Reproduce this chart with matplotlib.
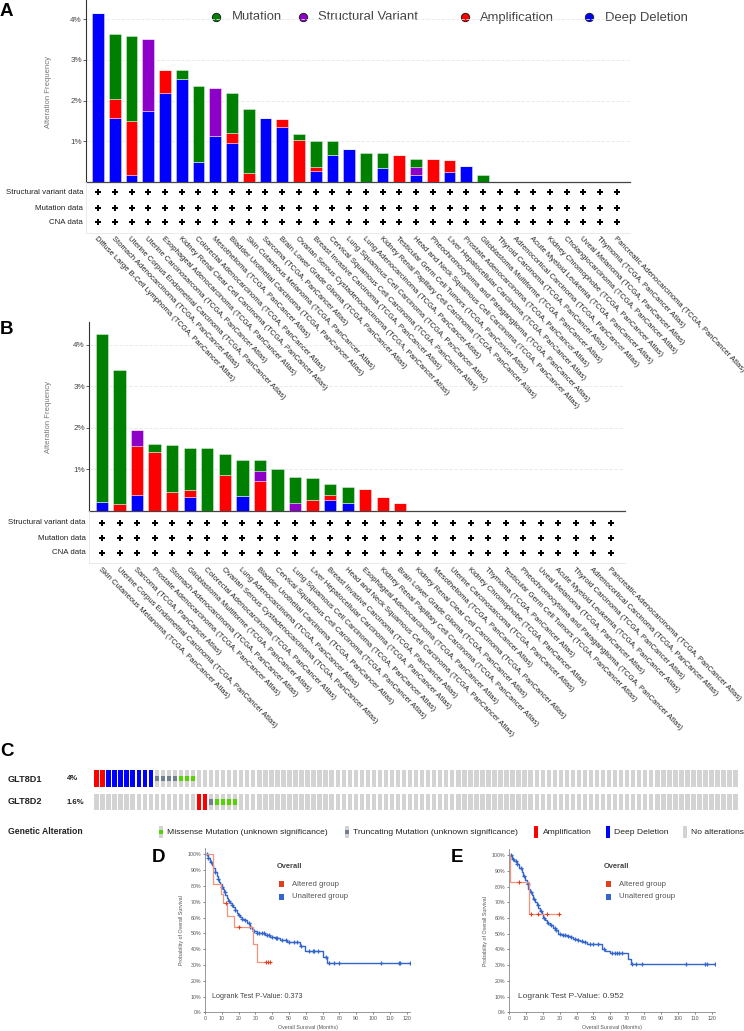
import matplotlib
matplotlib.use('Agg')
import matplotlib.pyplot as plt
import numpy as np
from matplotlib.patches import Rectangle

plt.rcParams['font.family'] = ['Liberation Sans', 'DejaVu Sans']

# ---------------- DATA ----------------
SUFFIX = ' (TCGA, PanCancer Atlas)'
a_cancers = ['Diffuse Large B-Cell Lymphoma', 'Stomach Adenocarcinoma', 'Uterine Corpus Endometrial Carcinoma',
             'Uterine Carcinosarcoma', 'Esophageal Adenocarcinoma', 'Kidney Renal Clear Cell Carcinoma',
             'Colorectal Adenocarcinoma', 'Mesothelioma', 'Bladder Urothelial Carcinoma', 'Skin Cutaneous Melanoma',
             'Sarcoma', 'Brain Lower Grade Glioma', 'Ovarian Serous Cystadenocarcinoma', 'Breast Invasive Carcinoma',
             'Cervical Squamous Cell Carcinoma', 'Lung Squamous Cell Carcinoma', 'Lung Adenocarcinoma',
             'Kidney Renal Papillary Cell Carcinoma', 'Testicular Germ Cell Tumors',
             'Head and Neck Squamous Cell Carcinoma', 'Pheochromocytoma and Paraganglioma',
             'Liver Hepatocellular Carcinoma', 'Prostate Adenocarcinoma', 'Glioblastoma Multiforme',
             'Thyroid Carcinoma', 'Adrenocortical Carcinoma', 'Acute Myeloid Leukemia', 'Kidney Chromophobe',
             'Cholangiocarcinoma', 'Uveal Melanoma', 'Thymoma', 'Pancreatic Adenocarcinoma']
a_mut = [0, 1.60, 2.09, 0, 0, 0.21, 1.86, 0, 0.98, 1.59, 0, 0, 0.17, 0.64, 0.34, 0, 0.70, 0.36, 0, 0.20,
         0, 0, 0, 0.16, 0, 0, 0, 0, 0, 0, 0, 0]
a_sv = [0, 0, 0, 1.76, 0, 0, 0, 1.16, 0, 0, 0, 0, 0, 0, 0, 0, 0, 0, 0, 0.19,
        0, 0, 0, 0, 0, 0, 0, 0, 0, 0, 0, 0]
a_amp = [0, 0.46, 1.33, 0, 0.56, 0, 0, 0, 0.24, 0.21, 0, 0.20, 1.02, 0.10, 0, 0, 0, 0, 0.66, 0,
         0.56, 0.28, 0, 0, 0, 0, 0, 0, 0, 0, 0, 0]
a_del = [4.16, 1.58, 0.17, 1.75, 2.19, 2.53, 0.49, 1.14, 0.96, 0, 1.57, 1.35, 0, 0.26, 0.66, 0.81, 0, 0.34, 0, 0.18,
         0, 0.25, 0.40, 0, 0, 0, 0, 0, 0, 0, 0, 0]

b_cancers = ['Skin Cutaneous Melanoma', 'Uterine Corpus Endometrial Carcinoma', 'Sarcoma', 'Prostate Adenocarcinoma',
             'Stomach Adenocarcinoma', 'Glioblastoma Multiforme', 'Colorectal Adenocarcinoma',
             'Ovarian Serous Cystadenocarcinoma', 'Lung Adenocarcinoma', 'Bladder Urothelial Carcinoma',
             'Cervical Squamous Cell Carcinoma', 'Lung Squamous Cell Carcinoma', 'Liver Hepatocellular Carcinoma',
             'Breast Invasive Carcinoma', 'Head and Neck Squamous Cell Carcinoma', 'Esophageal Adenocarcinoma',
             'Kidney Renal Papillary Cell Carcinoma', 'Brain Lower Grade Glioma', 'Kidney Renal Clear Cell Carcinoma',
             'Mesothelioma', 'Uterine Carcinosarcoma', 'Kidney Chromophobe', 'Thymoma', 'Testicular Germ Cell Tumors',
             'Pheochromocytoma and Paraganglioma', 'Uveal Melanoma', 'Acute Myeloid Leukemia', 'Thyroid Carcinoma',
             'Adrenocortical Carcinoma', 'Pancreatic Adenocarcinoma']
b_mut = [4.05, 3.21, 0, 0.21, 1.12, 1.02, 1.51, 0.51, 0.88, 0.25, 1.01, 0.63, 0.53, 0.26, 0.39,
         0, 0, 0, 0, 0, 0, 0, 0, 0, 0, 0, 0, 0, 0, 0]
b_sv = [0, 0, 0.38, 0, 0, 0, 0, 0, 0, 0.24, 0, 0.19, 0, 0, 0,
        0, 0, 0, 0, 0, 0, 0, 0, 0, 0, 0, 0, 0, 0, 0]
b_amp = [0, 0.18, 1.19, 1.41, 0.46, 0.16, 0, 0.86, 0, 0.73, 0, 0, 0.27, 0.11, 0,
         0.54, 0.34, 0.19, 0, 0, 0, 0, 0, 0, 0, 0, 0, 0, 0, 0]
b_del = [0.22, 0, 0.38, 0, 0, 0.34, 0, 0, 0.35, 0, 0, 0, 0, 0.27, 0.19,
         0, 0, 0, 0, 0, 0, 0, 0, 0, 0, 0, 0, 0, 0, 0]

table_rows = ['Structural variant data', 'Mutation data', 'CNA data']
legend_labels = ['Mutation', 'Structural Variant', 'Amplification', 'Deep Deletion']

# Oncoprint
onco_genes = ['GLT8D1', 'GLT8D2']
onco_freq = ['4%', '1.6%']
onco_n_samples = 107
glt8d1_events = ['AMP', 'AMP', 'HOMDEL', 'HOMDEL', 'HOMDEL', 'HOMDEL', 'HOMDEL', 'HOMDEL', 'HOMDEL', 'HOMDEL',
                 'TRUNC', 'TRUNC', 'TRUNC', 'TRUNC', 'MISS', 'MISS', 'MISS']
glt8d2_events = [''] * 17 + ['AMP', 'AMP', 'TRUNC', 'MISS', 'MISS', 'MISS', 'MISS']
onco_legend = ['Missense Mutation (unknown significance)', 'Truncating Mutation (unknown significance)',
               'Amplification', 'Deep Deletion', 'No alterations']

# Survival D (GLT8D1)
d_alt_t = [0, 5.0, 9.3, 10.5, 12.9, 17.0, 28.8, 30.8]
d_alt_s = [1.0, 0.81, 0.75, 0.69, 0.61, 0.54, 0.43, 0.32]
d_alt_c = [12.6, 20.4, 36.5, 37.5, 38.5]
d_un_t = [0, 1.5, 3.0, 4.0, 5.0, 6.0, 6.9, 7.7, 8.5, 9.2, 9.9, 10.6, 11.3, 12.1, 12.9, 13.9, 14.9, 15.9, 16.9,
          17.8, 18.8, 19.8, 20.8, 22.0, 23.2, 24.8, 26.8, 27.8, 28.8, 30.8, 33.7, 35.7, 38.7, 41.7, 44.6,
          48.6, 54.6, 56.5, 59.5, 70.4, 72.4]
d_un_s = [1.0, 0.975, 0.954, 0.935, 0.911, 0.888, 0.863, 0.845, 0.827, 0.811, 0.795, 0.780, 0.764, 0.743, 0.722,
          0.706, 0.690, 0.678, 0.665, 0.646, 0.627, 0.614, 0.601, 0.592, 0.584, 0.567, 0.542, 0.528, 0.515, 0.504,
          0.500, 0.489, 0.479, 0.468, 0.458, 0.447, 0.443, 0.420, 0.390, 0.352, 0.310]
d_un_c = [1, 2, 3.5, 6, 8, 10, 12, 14, 16, 18, 20, 22, 24, 26, 27, 29, 31, 32, 34, 35, 37, 38, 40, 42, 43, 46,
          48, 50, 53, 55, 57, 62, 64, 65, 67, 72, 74, 77, 80, 105, 115.5, 116, 122]

# Survival E (GLT8D2)
e_alt_t = [0, 0.3, 11.6]
e_alt_s = [1.0, 0.833, 0.625]
e_alt_c = [6.1, 12.8, 17.4, 22.3, 29.6]
e_un_t = [0, 1.6, 3.0, 4.5, 6.0, 7.5, 8.5, 9.5, 10.5, 11.4, 12.4, 13.4, 14.4, 15.4, 16.4, 17.4, 18.4, 19.3,
          20.3, 21.3, 22.8, 24.3, 25.8, 27.2, 29.2, 31.5, 34.1, 36.0, 38.1, 40.0, 42.0, 44.0, 46.0, 51.9,
          54.8, 57.0, 59.8, 70.6, 72.2]
e_un_s = [1.0, 0.977, 0.962, 0.945, 0.920, 0.892, 0.870, 0.843, 0.815, 0.786, 0.765, 0.744, 0.720, 0.701,
          0.685, 0.665, 0.645, 0.623, 0.603, 0.585, 0.568, 0.553, 0.540, 0.521, 0.500, 0.495, 0.489, 0.479,
          0.468, 0.460, 0.453, 0.445, 0.436, 0.432, 0.405, 0.390, 0.377, 0.341, 0.305]
e_un_c = [1, 2.5, 4, 5, 7, 9, 11, 13, 15, 17, 19, 21, 23, 25, 27, 28, 30, 32, 33, 35, 37, 39, 41, 43, 45, 48,
          50, 53, 56, 61, 63, 64, 65, 67, 73, 75, 79, 105, 116, 117, 122]

# ---------------- STYLE ----------------
GREEN, PURPLE, RED, BLUE = '#008000', '#8c00c8', '#ff0000', '#0000ff'
W, H = 744, 1031
fig = plt.figure(figsize=(W / 100, H / 100), dpi=100)

ov = fig.add_axes([0, 0, 1, 1], zorder=0)
ov.set_xlim(0, W)
ov.set_ylim(H, 0)
ov.axis('off')
ov.patch.set_alpha(0)


def px_axes(l, t, r, b, z=1):
    a = fig.add_axes([l / W, 1 - b / H, (r - l) / W, (b - t) / H], zorder=z)
    a.patch.set_alpha(0)
    return a


def bar_panel(l, t, r, b, tb, rows_y, cats, mut, sv, amp, dele, ymax, xl, label_y, ylab_y, lab_rot):
    ax = px_axes(l, t, r, b)
    x = np.arange(len(cats))
    bottom = np.zeros(len(cats))
    for vals, col in [(dele, BLUE), (amp, RED), (sv, PURPLE), (mut, GREEN)]:
        v = np.array(vals, dtype=float)
        ax.bar(x, v, 0.7, bottom=bottom, color=col, edgecolor=(1, 1, 1, 0.45), linewidth=0.6, zorder=3)
        bottom += v
    ax.set_xlim(*xl)
    ax.set_ylim(0, ymax)
    ax.set_yticks([1, 2, 3, 4])
    ax.set_yticklabels(['1%', '2%', '3%', '4%'])
    ax.tick_params(axis='y', labelsize=5.8, colors='#444', length=2, width=0.6, pad=1)
    ax.set_xticks([])
    for s in ['top', 'right']:
        ax.spines[s].set_visible(False)
    ax.spines['left'].set_color('#333')
    ax.spines['left'].set_linewidth(0.8)
    ax.spines['bottom'].set_color('#444')
    ax.spines['bottom'].set_linewidth(0.9)
    ax.grid(axis='y', color='#e8e8e8', linewidth=0.6, linestyle=(0, (4, 2)), zorder=0)
    ov.text(48, ylab_y, 'Alteration Frequency', rotation=90, ha='center', va='center',
            fontsize=5.6, color='#777')
    # table
    tx = px_axes(l, b, r, tb)
    tx.set_xlim(*xl)
    tx.set_ylim(tb, b)
    tx.set_xticks([])
    tx.set_yticks([])
    for s in ['top', 'right']:
        tx.spines[s].set_visible(False)
    for s in ['left', 'bottom']:
        tx.spines[s].set_color('#e6e6e6')
        tx.spines[s].set_linewidth(0.6)
    for name, ry in zip(table_rows, rows_y):
        ov.text(l - 3, ry, name, ha='right', va='center', fontsize=5.7, color='#222')
        tx.plot(x, [ry] * len(x), linestyle='none', marker='P', markersize=4.5, color='black',
                markeredgewidth=0, clip_on=False)
    for i, c in enumerate(cats):
        tx.text(i, label_y, c + SUFFIX, rotation=lab_rot, ha='left', va='top', rotation_mode='anchor',
                fontsize=5.5, color='#222', clip_on=False)
    return ax


# Panel A
axA = bar_panel(86, 0, 630, 182, 233, [192, 208, 222], a_cancers, a_mut, a_sv, a_amp, a_del,
                4.47, (-0.72, 31.78), 235.5, 92, -46)
# Panel B
axB = bar_panel(89, 322, 625, 511, 563, [523, 538, 553], b_cancers, b_mut, b_sv, b_amp, b_del,
                4.55, (-0.74, 29.8), 566.5, 417, -45)

# Legend of A
for (mx, tx_), lab, col in zip([(216, 232), (303, 318), (465, 480), (589, 605)], legend_labels,
                               [GREEN, PURPLE, RED, BLUE]):
    ov.plot(mx, 17, marker='o', markersize=6, color=col, markeredgecolor='#222', markeredgewidth=0.7)
    ov.text(tx_, 17.5, lab, fontsize=9.4, color='#444', ha='left', va='center')

# Panel letters
for lt, (lx, ly) in zip('ABCDE', [(0, 11), (0, 329), (0, 752), (152, 857), (451, 857)]):
    ov.text(lx, ly, lt, fontsize=13.5, fontweight='bold', ha='left', va='center', color='black')

# ---------------- Oncoprint ----------------
GRAY = '#d3d3d3'
ONC = {'AMP': RED, 'HOMDEL': BLUE, 'TRUNC': '#708090', 'MISS': '#53d400'}
pitch = 6.03
oax = px_axes(93.5, 768.6, 93.5 + pitch * onco_n_samples, 812)
oax.set_xlim(-0.5, onco_n_samples - 0.5)
oax.set_ylim(2.5, -0.1)
oax.axis('off')
cols = np.arange(onco_n_samples)
row_tops = [0, 1.4]
for events, rt in zip([glt8d1_events, glt8d2_events], row_tops):
    oax.bar(cols, 1.0, 0.73, bottom=rt, color=GRAY, linewidth=0)
    for i, ev in enumerate(events):
        if ev in ('AMP', 'HOMDEL'):
            oax.bar(i, 1.0, 0.73, bottom=rt, color=ONC[ev], linewidth=0)
        elif ev in ('TRUNC', 'MISS'):
            oax.bar(i, 0.32, 0.73, bottom=rt + 0.34, color=ONC[ev], linewidth=0)
for g, f, yy in zip(onco_genes, onco_freq, [779, 802]):
    ov.text(8, yy, g, fontsize=6.6, fontweight='bold', color='#222', ha='left', va='center')
    ov.text(67, yy, f, fontsize=5.6, fontweight='bold', color='#222', ha='left', va='center')

ov.text(8, 832, 'Genetic Alteration', fontsize=6.2, fontweight='bold', color='#222', ha='left', va='center')
leg_items = [(160.5, 167, 'MISS'), (346.5, 353, 'TRUNC'), (536, 543, 'AMP'), (608, 614, 'HOMDEL'),
             (685, 691, 'NONE')]
for (gx, tx_, kind), lab in zip(leg_items, onco_legend):
    ov.add_patch(Rectangle((gx - 2, 826), 4, 12, color=GRAY if kind in ('MISS', 'TRUNC', 'NONE') else ONC[kind],
                           linewidth=0))
    if kind in ('MISS', 'TRUNC'):
        ov.add_patch(Rectangle((gx - 2, 830), 4, 4, color=ONC[kind], linewidth=0))
    ov.text(tx_, 832, lab, fontsize=6.1, color='#222', ha='left', va='center')

# ---------------- KM plots ----------------
KM_ALT_LINE, KM_ALT_MK, KM_UN = '#f2937c', '#e0401f', '#3366cc'


def surv_at(ts, ss, c):
    idx = np.searchsorted(np.array(ts), np.array(c), side='right') - 1
    return np.array(ss)[idx]


def km_panel(l, t, r, b, at, as_, ac, ut, us, uc, pval, leg_x, pv_x, pv_fs):
    ax = px_axes(l, t, r, b)
    ax.set_xlim(0, 122)
    ax.set_ylim(0, 1.04)
    un_end = max(uc)
    ax.step(list(ut) + [un_end], list(us) + [us[-1]], where='post', color=KM_UN, linewidth=1.0)
    ax.plot(uc, surv_at(ut, us, uc), linestyle='none', marker='+', markersize=3.0, markeredgewidth=0.9,
            color=KM_UN)
    alt_end = max(ac)
    ax.step(list(at) + [alt_end], list(as_) + [as_[-1]], where='post', color=KM_ALT_LINE, linewidth=0.9)
    ax.plot(ac, surv_at(at, as_, ac), linestyle='none', marker='+', markersize=2.8, markeredgewidth=0.8,
            color=KM_ALT_MK)
    ax.set_xticks(np.arange(0, 121, 10))
    ax.set_yticks(np.arange(0, 1.01, 0.1))
    ax.set_yticklabels([f'{v}%' for v in range(0, 101, 10)])
    ax.tick_params(labelsize=3.8, colors='#555', length=1.5, width=0.5, pad=1)
    for s in ['top', 'right']:
        ax.spines[s].set_visible(False)
    for s in ['left', 'bottom']:
        ax.spines[s].set_color('#888')
        ax.spines[s].set_linewidth(0.6)
    ax.set_xlabel('Overall Survival (Months)', fontsize=3.8, color='#555', labelpad=3)
    ax.set_ylabel('Probability of Overall Survival', fontsize=3.8, color='#555', labelpad=3)
    ov.text(leg_x, 867, 'Overall', fontsize=5.4, fontweight='bold', color='#444', ha='left', va='center')
    for yy, col, lab in [(884, KM_ALT_MK, 'Altered group'), (897, KM_UN, 'Unaltered group')]:
        ov.add_patch(Rectangle((leg_x + 2, yy - 2.7), 5.4, 5.4, color=col, linewidth=0))
        ov.text(leg_x + 15, yy, lab, fontsize=5.6, color='#555', ha='left', va='center')
    ov.text(pv_x, 997, f'Logrank Test P-Value: {pval}', fontsize=pv_fs, color='#444', ha='left', va='center')


km_panel(205, 848, 410, 1012.3, d_alt_t, d_alt_s, d_alt_c, d_un_t, d_un_s, d_un_c, '0.373', 277, 212, 5.2)
km_panel(509, 849, 715, 1012.3, e_alt_t, e_alt_s, e_alt_c, e_un_t, e_un_s, e_un_c, '0.952', 604, 518, 6.0)

fig.savefig('out.png', dpi=100)
